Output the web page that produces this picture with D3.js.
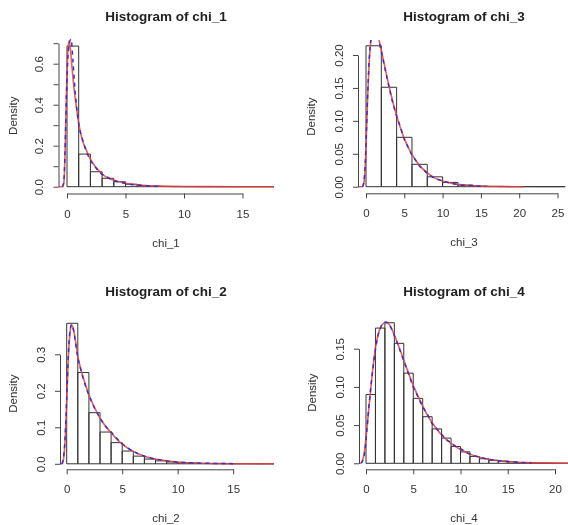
<!DOCTYPE html>
<html>
<head>
<meta charset="utf-8">
<script src="https://cdn.jsdelivr.net/npm/d3@7/dist/d3.min.js"></script>
<style>
  html, body { margin: 0; padding: 0; background: #fff; }
  svg { display: block; filter: blur(0.35px); }
  text { font-family: "Liberation Sans", Arial, sans-serif; }
</style>
</head>
<body>
<svg id="chart" width="568" height="525"></svg>
<script>
// ---------------- DATA ----------------
// Panel titles / variable names
const names = ["chi_1", "chi_3", "chi_2", "chi_4"];

// Histogram densities (bin width given by breaks)
const chi1_breaks = [0,1,2,3,4,5,6,7,8,9,10,11,12,13,14,15,16,17,18];
const chi1_density = [0.686,0.159,0.073,0.041,0.024,0.012,0.006,0.003,0.001,0.0005,0.0002,0.0001,0,0,0,0,0,0];

const chi3_breaks = [0,2,4,6,8,10,12,14,16,18,20,22,24,26];
const chi3_density = [0.214,0.151,0.075,0.034,0.015,0.0065,0.0025,0.001,0.0005,0.0002,0.0001,0,0];

const chi2_breaks = [0,1,2,3,4,5,6,7,8,9,10,11,12,13,14,15,16,17,18,19];
const chi2_density = [0.385,0.25,0.14,0.087,0.058,0.035,0.021,0.013,0.008,0.005,0.003,0.002,0.001,0.0006,0.0004,0.0002,0.0001,0,0];

const chi4_breaks = [0,1,2,3,4,5,6,7,8,9,10,11,12,13,14,15,16,17,18,19,20,21,22];
const chi4_density = [0.09,0.177,0.184,0.157,0.118,0.085,0.061,0.045,0.033,0.022,0.015,0.009,0.006,0.004,0.003,0.002,0.001,0.0007,0.0004,0.0002,0.0001,0];

// Red solid and blue dashed density curves
const chi1_red_x = [-0.74,-0.35,-0.25,-0.15,-0.05,0.05,0.15,0.25,0.4,0.6,0.8,1.0,1.3,1.6,2.0,2.5,3.0,3.5,4.0,5.0,6.0,7.0,8.0,9.0,10.0,12.0,15.0,17.7];
const chi1_red_y = [0,0,0.03,0.2,0.45,0.64,0.71,0.69,0.6,0.48,0.39,0.31,0.23,0.185,0.135,0.092,0.062,0.043,0.031,0.017,0.009,0.005,0.003,0.0015,0.0008,0.0003,0.0001,0];
const chi1_blue_x = [-0.4,-0.28,-0.18,-0.08,0.05,0.2,0.35,0.5,0.65,0.8,1.0,1.3,1.6,2.0,2.5,3.0,3.5,4.0,4.5,5.0,5.5,6.0,6.5,7.0,7.5,8.0];
const chi1_blue_y = [0,0.02,0.15,0.38,0.6,0.7,0.72,0.62,0.5,0.4,0.305,0.235,0.18,0.13,0.09,0.06,0.045,0.03,0.022,0.016,0.011,0.008,0.006,0.004,0.002,0.001];

const chi3_red_x = [-1.04,-0.5,-0.3,-0.15,0,0.2,0.4,0.6,0.8,1.0,1.3,1.6,2.0,2.5,3.0,3.5,4.0,4.5,5.0,5.5,6,7,8,9,10,11,12,13,14,15,16,17,18,20.6];
const chi3_red_y = [0,0,0.004,0.02,0.06,0.13,0.185,0.218,0.235,0.242,0.24,0.228,0.207,0.18,0.153,0.129,0.108,0.089,0.073,0.06,0.049,0.032,0.021,0.013,0.0085,0.0055,0.0035,0.0022,0.0014,0.0008,0.0004,0.0002,0.0001,0];
const chi3_blue_x = [-0.45,-0.25,-0.1,0,0.2,0.4,0.7,1.0,1.3,1.6,2,2.5,3,3.5,4,4.5,5,5.5,6,6.5,7,7.5,8,9,10,11,12,13,14,15,15.6];
const chi3_blue_y = [0,0.01,0.035,0.065,0.135,0.19,0.228,0.24,0.238,0.226,0.205,0.178,0.152,0.127,0.107,0.09,0.072,0.06,0.048,0.04,0.031,0.026,0.02,0.013,0.009,0.0055,0.0033,0.002,0.0015,0.0007,0.0004];

const chi2_red_x = [-0.6,-0.4,-0.3,-0.15,0,0.15,0.3,0.45,0.6,0.8,1,1.25,1.5,2,2.5,3,3.5,4,4.5,5,6,7,8,9,10,11,12,13,14,15,16,17,18.7];
const chi2_red_y = [0,0,0.01,0.06,0.17,0.29,0.36,0.38,0.37,0.335,0.295,0.262,0.235,0.19,0.155,0.125,0.103,0.085,0.068,0.054,0.034,0.021,0.013,0.008,0.0045,0.0028,0.0017,0.001,0.0006,0.0003,0.0001,0,0];
const chi2_blue_x = [-0.45,-0.3,-0.15,0,0.15,0.3,0.45,0.6,0.8,1,1.25,1.5,2,2.5,3,3.5,4,4.5,5,5.5,6,7,8,9,10,11,12,13,14,15];
const chi2_blue_y = [0,0.015,0.07,0.18,0.3,0.365,0.382,0.368,0.33,0.292,0.26,0.232,0.188,0.153,0.126,0.103,0.087,0.07,0.055,0.043,0.034,0.021,0.013,0.008,0.0045,0.003,0.0018,0.0011,0.0007,0.0004];

const chi4_red_x = [-0.74,-0.6,-0.4,-0.2,0,0.25,0.5,0.75,1,1.25,1.5,1.75,2,2.25,2.5,3,3.5,4,4.5,5,5.5,6,6.5,7,8,9,10,11,12,13,14,15,16,17,18,19,20,21,21.9];
const chi4_red_y = [0,0,0.003,0.012,0.033,0.065,0.097,0.127,0.151,0.167,0.177,0.182,0.184,0.184,0.181,0.168,0.152,0.135,0.118,0.102,0.088,0.075,0.063,0.053,0.037,0.026,0.018,0.012,0.008,0.005,0.0033,0.0022,0.0014,0.0009,0.0006,0.0004,0.0002,0.0001,0];
const chi4_blue_x = [-0.5,-0.3,-0.1,0.1,0.35,0.6,0.9,1.2,1.5,1.8,2.1,2.4,2.7,3,3.5,4,4.5,5,5.5,6,6.5,7,7.5,8,8.5,9,9.5,10,11,12,13,14,15,16,17,17.5];
const chi4_blue_y = [0,0.005,0.018,0.045,0.08,0.11,0.14,0.163,0.176,0.183,0.185,0.183,0.176,0.167,0.151,0.134,0.117,0.1,0.087,0.074,0.064,0.052,0.045,0.038,0.031,0.027,0.022,0.019,0.012,0.008,0.0052,0.0035,0.0022,0.0013,0.0007,0.0005];

// Axis tick values
const chi1_xticks = [0,5,10,15];
const chi1_yticks = [0,0.1,0.2,0.3,0.4,0.5,0.6,0.7];
const chi1_ylabels = ["0.0","","0.2","","0.4","","0.6",""];
const chi3_xticks = [0,5,10,15,20,25];
const chi3_yticks = [0,0.05,0.1,0.15,0.2];
const chi3_ylabels = ["0.00","0.05","0.10","0.15","0.20"];
const chi2_xticks = [0,5,10,15];
const chi2_yticks = [0,0.1,0.2,0.3];
const chi2_ylabels = ["0.0","0.1","0.2","0.3"];
const chi4_xticks = [0,5,10,15,20];
const chi4_yticks = [0,0.05,0.1,0.15];
const chi4_ylabels = ["0.00","0.05","0.10","0.15"];

// ---------------- LAYOUT (pixels) ----------------
const layout = [
  { x0: 67,   xUnit: 11.7, left: 58.5, right: 274, y0: 186.7, yUnit: 205,   axisY: 193.5, top: 38,  titleX: 166, titleY: 21,  labX: 166, denX: 17 },
  { x0: 366,  xUnit: 7.66, left: 358,  right: 573, y0: 186.7, yUnit: 658.5, axisY: 193.3, top: 40,  titleX: 464, titleY: 21,  labX: 464, denX: 315 },
  { x0: 66.7, xUnit: 11.1, left: 60,   right: 274, y0: 463.8, yUnit: 365,   axisY: 469.3, top: 318, titleX: 166, titleY: 296, labX: 166, denX: 17 },
  { x0: 366,  xUnit: 9.45, left: 359,  right: 573, y0: 463.3, yUnit: 764,   axisY: 469.3, top: 316, titleX: 464, titleY: 296, labX: 464, denX: 316 }
];

const panelData = [
  { name: names[0], breaks: chi1_breaks, dens: chi1_density, rx: chi1_red_x, ry: chi1_red_y, bx: chi1_blue_x, by: chi1_blue_y, xt: chi1_xticks, yt: chi1_yticks, yl: chi1_ylabels },
  { name: names[1], breaks: chi3_breaks, dens: chi3_density, rx: chi3_red_x, ry: chi3_red_y, bx: chi3_blue_x, by: chi3_blue_y, xt: chi3_xticks, yt: chi3_yticks, yl: chi3_ylabels },
  { name: names[2], breaks: chi2_breaks, dens: chi2_density, rx: chi2_red_x, ry: chi2_red_y, bx: chi2_blue_x, by: chi2_blue_y, xt: chi2_xticks, yt: chi2_yticks, yl: chi2_ylabels },
  { name: names[3], breaks: chi4_breaks, dens: chi4_density, rx: chi4_red_x, ry: chi4_red_y, bx: chi4_blue_x, by: chi4_blue_y, xt: chi4_xticks, yt: chi4_yticks, yl: chi4_ylabels }
];

const svg = d3.select("#chart");
const textCol = "#333";
const axisCol = "#444";
const fontFam = '"Liberation Sans", Arial, sans-serif';

panelData.forEach((p, i) => {
  const L = layout[i];
  const x = d3.scaleLinear().domain([0, 1]).range([L.x0, L.x0 + L.xUnit]);
  const y = d3.scaleLinear().domain([0, 1]).range([L.y0, L.y0 - L.yUnit]);
  const g = svg.append("g");

  const clipId = "clip" + i;
  svg.append("clipPath").attr("id", clipId).append("rect")
    .attr("x", L.left).attr("y", L.top)
    .attr("width", L.right - L.left).attr("height", L.axisY - L.top);

  const plot = g.append("g").attr("clip-path", `url(#${clipId})`);

  // histogram bars (as paths so zero-height bins still draw a baseline)
  const bins = p.dens.map((d, k) => ({ x0: p.breaks[k], x1: p.breaks[k + 1], d }));
  plot.selectAll("path.bar").data(bins).join("path")
    .attr("class", "bar")
    .attr("d", b => `M${x(b.x0)},${y(0)}V${y(b.d)}H${x(b.x1)}V${y(0)}Z`)
    .attr("fill", "none")
    .attr("stroke", "#333")
    .attr("stroke-width", 1);

  const line = d3.line().x(d => x(d[0])).y(d => y(d[1])).curve(d3.curveMonotoneX);
  plot.append("path")
    .datum(p.rx.map((v, k) => [v, p.ry[k]]))
    .attr("d", line)
    .attr("fill", "none")
    .attr("stroke", "#e8403f")
    .attr("stroke-opacity", 0.85)
    .attr("stroke-width", 1.6);
  plot.append("path")
    .datum(p.bx.map((v, k) => [v, p.by[k]]))
    .attr("d", line)
    .attr("fill", "none")
    .attr("stroke", "#3a30c0")
    .attr("stroke-width", 1.5)
    .attr("stroke-dasharray", "4,4");

  // x axis
  const xt = p.xt;
  const xAx = d3.scaleLinear().domain([xt[0], xt[xt.length - 1]]).range([x(xt[0]), x(xt[xt.length - 1])]);
  const gx = g.append("g").attr("transform", `translate(0,${L.axisY})`)
    .call(d3.axisBottom(xAx).tickValues(xt).tickFormat(d3.format("d")).tickSize(5).tickSizeOuter(0).tickPadding(11));
  gx.select(".domain").attr("stroke", axisCol);
  gx.selectAll(".tick line").attr("stroke", axisCol);
  gx.selectAll("text").attr("fill", textCol).style("font-size", "11.5px").style("font-family", fontFam);

  // y axis
  const yt = p.yt;
  const yAx = d3.scaleLinear().domain([yt[0], yt[yt.length - 1]]).range([y(yt[0]), y(yt[yt.length - 1])]);
  const gy = g.append("g").attr("transform", `translate(${L.left},0)`)
    .call(d3.axisLeft(yAx).tickValues(yt).tickFormat((d, k) => p.yl[k]).tickSize(5).tickSizeOuter(0));
  gy.select(".domain").attr("stroke", axisCol);
  gy.selectAll(".tick line").attr("stroke", axisCol);
  gy.selectAll("text")
    .attr("x", null).attr("dy", null)
    .attr("transform", "translate(-15.5,0) rotate(-90)")
    .attr("text-anchor", "middle")
    .attr("fill", textCol)
    .style("font-size", "11.5px").style("font-family", fontFam);

  // labels
  g.append("text")
    .attr("x", L.titleX).attr("y", L.titleY)
    .attr("text-anchor", "middle")
    .attr("font-weight", "bold").attr("font-size", 13.5)
    .attr("fill", "#222")
    .text("Histogram of " + p.name);
  g.append("text")
    .attr("x", L.labX)
    .attr("y", L.axisY + 53)
    .attr("text-anchor", "middle")
    .attr("font-size", 11.5)
    .attr("fill", textCol)
    .text(p.name);
  const midY = (L.top + L.axisY) / 2;
  g.append("text")
    .attr("transform", `translate(${L.denX},${midY}) rotate(-90)`)
    .attr("text-anchor", "middle")
    .attr("font-size", 11.5)
    .attr("fill", textCol)
    .text("Density");
});
</script>
</body>
</html>
